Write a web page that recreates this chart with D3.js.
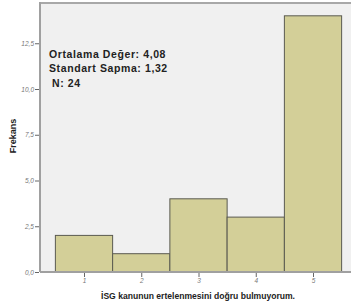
<!DOCTYPE html>
<html>
<head>
<meta charset="utf-8">
<script src="https://cdn.jsdelivr.net/npm/d3@7/dist/d3.min.js"></script>
<style>
  body { margin: 0; background: #fff; }
  svg { display: block; font-family: "Liberation Sans", Arial, sans-serif; }
</style>
</head>
<body>
<div id="chart"></div>
<script>
var categories = [1, 2, 3, 4, 5];
var counts = [2, 1, 4, 3, 14];
var yTicks = [0, 2.5, 5, 7.5, 10, 12.5];
var statLines = ["Ortalama Değer: 4,08", "Standart Sapma: 1,32", "N: 24"];

var width = 351, height = 305;
var plotLeft = 40, plotTop = 3, plotBottom = 272, plotRight = 360;

var svg = d3.select("#chart").append("svg")
    .attr("width", width)
    .attr("height", height);

var x = d3.scaleLinear().domain([1, 5]).range([84, 313]);
var y = d3.scaleLinear().domain([0, 14.7]).range([plotBottom, plotTop]);

// plot background
svg.append("rect")
    .attr("x", plotLeft).attr("y", plotTop)
    .attr("width", plotRight - plotLeft).attr("height", plotBottom - plotTop)
    .attr("fill", "#f0f0f0");

// bars
svg.selectAll("rect.bar")
    .data(counts)
    .enter().append("rect")
    .attr("class", "bar")
    .attr("x", function(d, i) { return x(categories[i] - 0.5); })
    .attr("width", function(d, i) { return x(categories[i] + 0.5) - x(categories[i] - 0.5); })
    .attr("y", function(d) { return y(d); })
    .attr("height", function(d) { return y(0) - y(d); })
    .attr("fill", "#d3cf98")
    .attr("stroke", "#5a5a50")
    .attr("stroke-width", 1);

// frame
svg.append("line")
    .attr("x1", plotLeft).attr("x2", plotRight).attr("y1", plotTop).attr("y2", plotTop)
    .attr("stroke", "#a8a8a8").attr("stroke-width", 2);
svg.append("line")
    .attr("x1", plotLeft).attr("x2", plotLeft).attr("y1", plotTop - 1).attr("y2", plotBottom)
    .attr("stroke", "#a0a0a0").attr("stroke-width", 2);
svg.append("line")
    .attr("x1", plotLeft).attr("x2", plotRight).attr("y1", plotBottom).attr("y2", plotBottom)
    .attr("stroke", "#a0a0a0").attr("stroke-width", 2);

// y axis
var yAxis = svg.append("g")
    .attr("transform", "translate(" + (plotLeft - 1) + ",0)")
    .call(d3.axisLeft(y).tickValues(yTicks).tickSize(4).tickSizeOuter(0)
        .tickFormat(function(d) { return d3.format(".1f")(d).replace(".", ","); }));
yAxis.select(".domain").remove();
yAxis.selectAll("line").attr("stroke", "#666");
yAxis.selectAll("text").attr("fill", "#777").attr("font-size", 6.5).attr("font-style", "italic").attr("x", -5);

// x axis
var xAxis = svg.append("g")
    .attr("transform", "translate(0," + (plotBottom + 1) + ")")
    .call(d3.axisBottom(x).tickValues(categories).tickSize(4).tickSizeOuter(0)
        .tickFormat(d3.format("d")));
xAxis.select(".domain").remove();
xAxis.selectAll("line").attr("stroke", "#666");
xAxis.selectAll("text").attr("fill", "#777").attr("font-size", 6.5).attr("font-style", "italic").attr("y", 5);

// stats text, a bit wide like the exported bitmap
svg.selectAll("text.stat")
    .data(statLines)
    .enter().append("text")
    .attr("class", "stat")
    .attr("x", function(d, i) { return i === 2 ? 52 : 49; })
    .attr("y", function(d, i) { return 57.5 + i * 14.8; })
    .attr("font-size", 10.5)
    .attr("font-weight", "bold")
    .attr("letter-spacing", 0.6)
    .attr("fill", "#222")
    .text(function(d) { return d; });

// axis titles
svg.append("text")
    .attr("transform", "translate(16,136) rotate(-90)")
    .attr("text-anchor", "middle")
    .attr("font-size", 9)
    .attr("font-weight", "bold")
    .attr("fill", "#222")
    .text("Frekans");

svg.append("text")
    .attr("x", 101).attr("y", 299)
    .attr("font-size", 9.5)
    .attr("font-weight", "bold")
    .attr("fill", "#222")
    .attr("textLength", 194)
    .attr("lengthAdjust", "spacingAndGlyphs")
    .text("İSG kanunun ertelenmesini doğru bulmuyorum.");
</script>
</body>
</html>
